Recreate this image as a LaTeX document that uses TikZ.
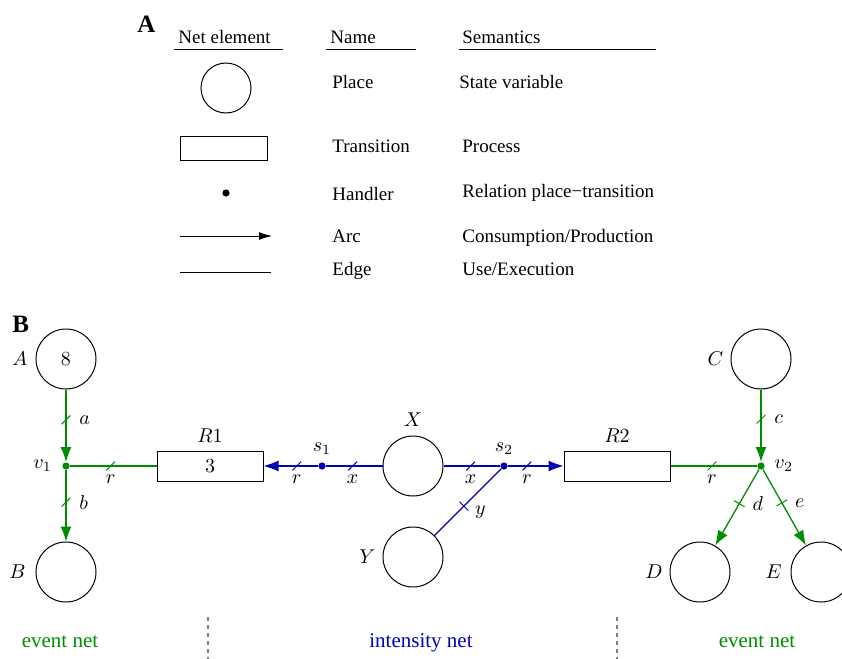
\documentclass[tikz,border=0pt]{standalone}
\usepackage{fontspec}
\setmainfont{Liberation Serif}
\usetikzlibrary{arrows.meta}

\definecolor{evgreen}{RGB}{0,140,0}
\definecolor{inblue}{RGB}{0,0,185}

\tikzstyle{place}=[shape=circle,draw,line width=.5pt,minimum size=30pt,inner sep=0pt]
\tikzstyle{transition}=[shape=rectangle,draw,line width=.5pt,minimum width=53pt,minimum height=15pt,inner sep=0pt]
\tikzstyle{handler}=[shape=circle,fill,minimum size=3.6pt,inner sep=0pt]
\tikzstyle{evarc}=[->,draw=evgreen,line width=.65pt]
\tikzstyle{evedge}=[-,draw=evgreen,line width=.65pt]
\tikzstyle{inarc}=[->,draw=inblue,line width=.65pt]
\tikzstyle{inedge}=[-,draw=inblue,line width=.65pt]
\tikzstyle{tick}=[draw=#1,line width=.5pt,inner sep=0pt,minimum width=6.2pt,minimum height=0pt,rotate=45]
\tikzstyle{ptick}=[draw=#1,line width=.5pt,inner sep=0pt,minimum width=0pt,minimum height=6.2pt,sloped]
\tikzstyle{legtext}=[font=\fontsize{9.5}{11}\selectfont,anchor=base west,inner sep=0pt]
\tikzstyle{nettext}=[font=\fontsize{10.5}{12}\selectfont,anchor=base]
\tikzstyle{panel}=[font=\bfseries\fontsize{12.5}{14}\selectfont,anchor=base west,inner sep=0pt]

\begin{document}
\begin{tikzpicture}[x=.5pt,y=-.5pt,>={Latex[length=7.5pt,width=5.5pt]}]
\useasboundingbox (0,0) rectangle (842,659);

% legend
\node[panel] (pa) at (137,32) {A};
\node[legtext] (h1) at (178,43) {Net element};
\node[legtext] (h2) at (330,43) {Name};
\node[legtext] (h3) at (462,43) {Semantics};
\draw[line width=.5pt] (174,49) -- (283,49) (326,49) -- (416,49) (459,49) -- (656,49);

\node[place,minimum size=25pt] (lp) at (226,88) {};
\node[transition,minimum width=43.5pt,minimum height=12pt] (lt) at (223.5,148) {};
\node[handler] (lh) at (226,193) {};
\coordinate (la1) at (180,236);
\coordinate (la2) at (272,236);
\draw[line width=.5pt,-{Latex[length=6.5pt,width=4pt]}] (la1) -- (la2);
\coordinate (le1) at (180,272);
\coordinate (le2) at (271,272);
\draw[line width=.5pt] (le1) -- (le2);

\node[legtext] (n1) at (332,88) {Place};
\node[legtext] (n2) at (332,152) {Transition};
\node[legtext] (n3) at (332,200) {Handler};
\node[legtext] (n4) at (332,242) {Arc};
\node[legtext] (n5) at (332,275) {Edge};
\node[legtext] (m1) at (459,88) {State variable};
\node[legtext] (m2) at (462,152) {Process};
\node[legtext] (m3) at (462,197) {Relation place−transition};
\node[legtext] (m4) at (462,242) {Consumption/Production};
\node[legtext] (m5) at (462,275) {Use/Execution};

% net
\node[panel] (pb) at (12,332) {B};

% places
\node[place,label={[label distance=.5pt]left:$A$}] (A) at (66,359) {$8$};
\node[place,label={[label distance=1.5pt]left:$B$}] (B) at (66,572) {};
\node[place,label={[label distance=1pt]above:$X$}] (X) at (413,466) {};
\node[place,label=left:$Y$] (Y) at (413,557) {};
\node[place,label=left:$C$] (C) at (761,359) {};
\node[place,label=left:$D$] (D) at (700,572) {};
\node[place,label={[label distance=1pt]left:$E$}] (E) at (821,572) {};
% transitions
\node[transition,label={[label distance=.5pt]above:$R1$}] (R1) at (210,466) {$3$};
\node[transition,label={[label distance=.5pt]above:$R2$}] (R2) at (617,466) {};
% handlers
\node[handler,evgreen,label={[text=black,label distance=1.5pt]left:$v_1$}] (v1) at (66,466) {}
    edge [evarc,<-] node[tick=evgreen,pos=.58] {} node[pos=.58,right=3pt] {$a$} (A)
    edge [evarc] node[tick=evgreen,pos=.45] {} node[pos=.45,right=3pt] {$b$} (B)
    edge [evedge] node[tick=evgreen,pos=.47] {} node[pos=.47,below=1pt] {$r$} (R1);
\node[handler,inblue,label={[text=black]above:$s_1$}] (s1) at (322,466) {}
    edge [inarc] node[tick=inblue,pos=.39] {} node[pos=.39,below=1pt] {$r$} (R1)
    edge [inedge] node[tick=inblue,pos=.47] {} node[pos=.47,below=1pt] {$x$} (X);
\node[handler,inblue,label={[text=black]above:$s_2$}] (s2) at (504,466) {}
    edge [inedge] node[tick=inblue,pos=.52] {} node[pos=.52,below=1pt] {$x$} (X)
    edge [inarc] node[tick=inblue,pos=.34] {} node[pos=.34,below=1pt] {$r$} (R2)
    edge [inedge] node[ptick=inblue,pos=.56] {} node[pos=.56,right=2pt,yshift=-3pt] {$y$} (Y);
\node[handler,evgreen,label={[text=black,label distance=1.2pt]right:$v_2$}] (v2) at (761,466) {}
    edge [evarc,<-] node[tick=evgreen,pos=.59] {} node[pos=.59,right=3pt] {$c$} (C)
    edge [evedge] node[tick=evgreen,pos=.52] {} node[pos=.52,below=1pt] {$r$} (R2)
    edge [evarc] node[ptick=evgreen,pos=.45] {} node[pos=.45,right=3pt] {$d$} (D)
    edge [evarc] node[ptick=evgreen,pos=.44] {} node[pos=.44,right=3pt] {$e$} (E);

% subnets
\draw[gray,line width=.6pt,dash pattern=on 2pt off 2pt] (208,617) -- (208,659) (617,617) -- (617,659);
\node[nettext,evgreen] (ev1) at (60,647) {event net};
\node[nettext,inblue] (in) at (421,647) {intensity net};
\node[nettext,evgreen] (ev2) at (757,647) {event net};
\end{tikzpicture}
\end{document}
